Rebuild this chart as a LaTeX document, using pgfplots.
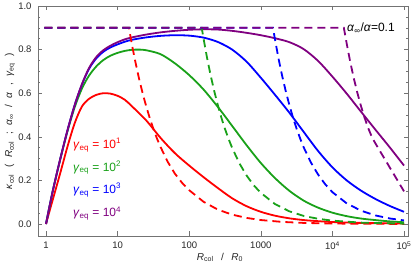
\documentclass[border=0pt]{standalone}
\usepackage{pgfplots}
\pgfplotsset{compat=1.18}
\usepackage{fontspec}
\setmainfont{Liberation Sans}
\definecolor{mred}{rgb}{1,0,0}
\definecolor{mgreen}{rgb}{0.1,0.63,0.1}
\definecolor{mblue}{rgb}{0,0,1}
\definecolor{mpurple}{rgb}{0.5,0,0.5}
\definecolor{framegray}{gray}{0.45}
\begin{document}
\begin{tikzpicture}
\begin{axis}[
  scale only axis, width=370pt, height=230pt,
  xmode=log, log basis x=10,
  xmin=0.773, xmax=113700, ymin=-0.055, ymax=1.0,
  xtick={1,10,100,1000,10000,100000},
  xticklabels={1,10,100,1000,10\textsuperscript{4},10\textsuperscript{5}},
  ytick={0,0.2,0.4,0.6,0.8,1.0},
  minor y tick num=3,
  tick label style={font=\fontsize{9.5}{11}\selectfont, color=black!85},
  xticklabel style={yshift=-2pt},
  yticklabel style={xshift=-3pt,/pgf/number format/.cd,fixed,fixed zerofill,precision=1,assume math mode=true},
  axis line style={framegray, line width=0.6pt},
  every tick/.style={framegray, line width=0.5pt},
  major tick length=4.5pt, minor tick length=2.5pt,
  tick align=inside,
  clip=true,
]
\coordinate (sw) at (rel axis cs:0,0);
\coordinate (ne) at (rel axis cs:1,1);
\coordinate (yl) at (rel axis cs:0,0.5);
\coordinate (xl) at (rel axis cs:0.5,0);

% solid curves
\addplot[mred, line width=1.8pt, smooth] coordinates {
(1,0) (1.122,0.06) (1.259,0.118) (1.585,0.235) (1.995,0.355) (2.512,0.462) (3.162,0.538) (3.981,0.574) (5.012,0.592) (6.31,0.6) (7.943,0.598) (10,0.588) (12.59,0.57) (15.85,0.54) (25.12,0.475) (39.81,0.395) (63.1,0.325) (100,0.268) (158.5,0.215) (251.2,0.165) (398.1,0.118) (631,0.082) (1000,0.056) (1585,0.038) (2512,0.026) (3981,0.018) (6310,0.013) (10000,0.009) (25120,0.005) (100000,0.002)
};
\addplot[mgreen, line width=1.8pt, smooth] coordinates {
(1,0) (1.122,0.082) (1.259,0.16) (1.585,0.298) (1.995,0.425) (2.512,0.535) (3.162,0.62) (3.981,0.68) (5.012,0.722) (6.31,0.752) (7.943,0.772) (10,0.785) (12.59,0.794) (15.85,0.799) (19.95,0.8) (25.12,0.797) (39.81,0.779) (63.1,0.737) (100,0.683) (158.5,0.617) (251.2,0.537) (398.1,0.45) (631,0.362) (1000,0.28) (1585,0.21) (2512,0.152) (3981,0.107) (6310,0.075) (10000,0.052) (15850,0.036) (25120,0.025) (39810,0.018) (63100,0.012) (100000,0.008)
};
\addplot[mblue, line width=1.8pt, smooth] coordinates {
(1,0) (1.122,0.082) (1.259,0.16) (1.585,0.3) (1.995,0.43) (2.512,0.545) (3.162,0.638) (3.981,0.711) (5.012,0.759) (6.31,0.79) (7.943,0.81) (10,0.824) (12.59,0.836) (15.85,0.845) (25.12,0.856) (39.81,0.863) (63.1,0.866) (100,0.864) (158.5,0.855) (251.2,0.835) (398.1,0.8) (631,0.745) (1000,0.671) (1585,0.592) (2512,0.51) (3981,0.422) (6310,0.335) (10000,0.26) (15850,0.2) (25120,0.153) (39810,0.115) (63100,0.083) (100000,0.056)
};
\addplot[mpurple, line width=1.8pt, smooth] coordinates {
(1,0) (1.122,0.082) (1.259,0.16) (1.585,0.3) (1.995,0.43) (2.512,0.545) (3.162,0.64) (3.981,0.715) (5.012,0.765) (6.31,0.797) (7.943,0.818) (10,0.834) (12.59,0.847) (15.85,0.856) (25.12,0.869) (39.81,0.879) (63.1,0.886) (100,0.891) (158.5,0.893) (251.2,0.892) (398.1,0.886) (631,0.877) (1000,0.866) (1585,0.852) (2512,0.834) (3981,0.802) (6310,0.748) (10000,0.676) (15850,0.598) (25120,0.515) (39810,0.433) (63100,0.352) (100000,0.268)
};

% dashed curves
\addplot[mred, line width=1.8pt, dash pattern=on 8pt off 5pt] coordinates {
(0.95,0.9) (14.39,0.9) (15.85,0.823) (17.78,0.741) (19.95,0.666) (22.39,0.599) (25.12,0.539) (28.18,0.485) (31.62,0.436) (35.48,0.392) (39.81,0.353) (50.12,0.285) (63.1,0.231) (79.43,0.189) (100,0.155) (158.5,0.102) (251.2,0.066) (398.1,0.043) (631,0.028) (1000,0.0182) (1995,0.0096) (3981,0.005) (10000,0.0021) (100000,0.0003)
};
\addplot[mgreen, line width=1.8pt, dash pattern=on 8pt off 5pt] coordinates {
(0.95,0.9) (149.6,0.9) (158.5,0.851) (177.8,0.761) (199.5,0.681) (223.9,0.609) (251.2,0.545) (281.8,0.487) (316.2,0.436) (354.8,0.39) (398.1,0.349) (501.2,0.279) (631,0.223) (794.3,0.178) (1000,0.143) (1585,0.091) (2512,0.058) (3981,0.037) (6310,0.024) (10000,0.0153) (25120,0.0063) (100000,0.0016)
};
\addplot[mblue, line width=1.8pt, dash pattern=on 8pt off 5pt] coordinates {
(0.95,0.9) (1479,0.9) (1585,0.843) (1778,0.755) (1995,0.677) (2239,0.607) (2512,0.544) (2818,0.488) (3162,0.437) (3548,0.392) (3981,0.351) (5012,0.282) (6310,0.227) (7943,0.182) (10000,0.146) (15850,0.0946) (25120,0.061) (39810,0.0394) (63100,0.0255) (100000,0.0164)
};
\addplot[mpurple, line width=1.8pt, dash pattern=on 8pt off 5pt] coordinates {
(0.95,0.9) (14450,0.9) (15850,0.827) (17780,0.742) (19950,0.667) (22390,0.6) (25120,0.54) (28180,0.487) (31620,0.44) (35480,0.4) (39810,0.37) (50120,0.315) (63100,0.26) (79430,0.205) (100000,0.15)
};

% legend texts
\node[anchor=west, text=mred, font=\fontsize{12}{14}\selectfont, inner sep=0pt] at (axis cs:2.38,0.362) {\textit{γ}\textsubscript{eq} = 10\textsuperscript{1}};
\node[anchor=west, text=mgreen, font=\fontsize{12}{14}\selectfont, inner sep=0pt] at (axis cs:2.38,0.258) {\textit{γ}\textsubscript{eq} = 10\textsuperscript{2}};
\node[anchor=west, text=mblue, font=\fontsize{12}{14}\selectfont, inner sep=0pt] at (axis cs:2.38,0.156) {\textit{γ}\textsubscript{eq} = 10\textsuperscript{3}};
\node[anchor=west, text=mpurple, font=\fontsize{12}{14}\selectfont, inner sep=0pt] at (axis cs:2.38,0.049) {\textit{γ}\textsubscript{eq} = 10\textsuperscript{4}};
\node[anchor=west, text=black, font=\fontsize{12}{14}\selectfont, inner sep=0pt] at (axis cs:16000,0.898) {\textit{α}\textsubscript{∞}/\textit{α}=0.1};
\end{axis}
\node[rotate=90, font=\fontsize{10}{12}\selectfont, text=black!85] at ([xshift=-28pt]yl) {\textit{κ}\textsubscript{col}\hspace{0.65em}(\hspace{0.65em}\textit{R}\textsubscript{col}\hspace{0.65em};\hspace{0.65em}\textit{α}\textsubscript{∞}\hspace{0.65em}/\hspace{0.65em}\textit{α}\hspace{0.65em},\hspace{0.65em}\textit{γ}\textsubscript{eq}\hspace{0.65em})};
\node[font=\fontsize{10}{12}\selectfont, text=black!85] at ([xshift=-3pt,yshift=-21.3pt]xl) {\textit{R}\textsubscript{col}\hspace{0.75em}/\hspace{0.75em}\textit{R}\textsubscript{0}};
\pgfresetboundingbox
\path ([shift={(-38pt,-34pt)}]sw) rectangle ([shift={(5pt,6pt)}]ne);
\end{tikzpicture}
\end{document}
